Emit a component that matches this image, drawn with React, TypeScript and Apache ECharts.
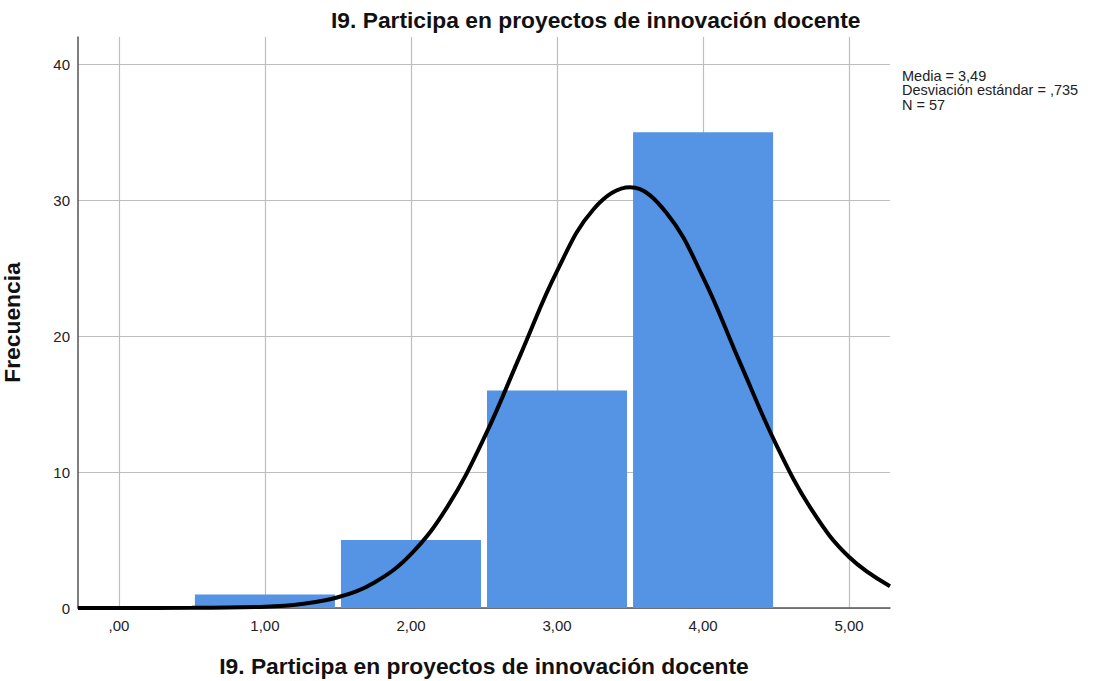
import React, { useEffect, useRef } from "react";
import * as echarts from "echarts";

const TITLE = "I9. Participa en proyectos de innovación docente";
const Y_NAME = "Frecuencia";
const binCenters = [1, 2, 3, 4];
const binCounts = [1, 5, 16, 35];
const xTicks = [0, 1, 2, 3, 4, 5];
const xTickLabels = [",00", "1,00", "2,00", "3,00", "4,00", "5,00"];
const yTicks = [0, 10, 20, 30, 40];
const curveX = [-0.28, 0, 0.5, 1, 1.25, 1.5, 1.75, 2, 2.25, 2.5, 2.75, 3, 3.25, 3.5, 3.75, 4, 4.25, 4.5, 4.75, 5, 5.28];
const curveY = [0, 0, 0.01, 0.1, 0.3, 0.79, 1.88, 3.96, 7.46, 12.49, 18.64, 24.78, 29.33, 30.94, 29.06, 24.32, 18.12, 12.04, 7.12, 3.75, 1.6];
const statsLines = ["Media = 3,49", "Desviación estándar = ,735", "N = 57"];

const FONT = "'Liberation Sans', Arial, sans-serif";

export default function App() {
  const ref = useRef<HTMLDivElement>(null);
  useEffect(() => {
    if (!ref.current) return;
    const chart = echarts.init(ref.current, undefined, { renderer: "svg" });
    const option: any = {
      animation: false,
      backgroundColor: "#ffffff",
      textStyle: { fontFamily: FONT },
      title: {
        text: TITLE,
        left: 331,
        top: 8,
        padding: 0,
        textStyle: { fontFamily: FONT, fontSize: 22.8, fontWeight: "bold", color: "#111" },
      },
      grid: { left: 78, right: 206, top: 37, bottom: 73, outerBoundsMode: "none", containLabel: false },
      xAxis: {
        type: "value",
        min: -0.28,
        max: 5.28,
        name: TITLE,
        nameLocation: "middle",
        nameGap: 46,
        nameTextStyle: { fontFamily: FONT, fontSize: 22.8, fontWeight: "bold", color: "#111" },
        axisLine: { show: true, onZero: false, lineStyle: { color: "#555", width: 1.5 } },
        axisTick: { show: false, customValues: xTicks },
        axisLabel: {
          customValues: xTicks,
          margin: 10,
          fontFamily: FONT,
          fontSize: 15,
          color: "#222",
          formatter: (v: number) => {
            const i = xTicks.indexOf(Math.round(v));
            return i >= 0 ? xTickLabels[i] : "";
          },
        },
        splitLine: { show: true, lineStyle: { color: "#bdbdbd", width: 1.2 } },
      },
      yAxis: {
        type: "value",
        min: 0,
        max: 42,
        name: Y_NAME,
        nameLocation: "middle",
        nameGap: 55,
        nameTextStyle: { fontFamily: FONT, fontSize: 22.8, fontWeight: "bold", color: "#111" },
        axisLine: { show: true, onZero: false, lineStyle: { color: "#555", width: 1.5 } },
        axisTick: { show: false, customValues: yTicks },
        axisLabel: { customValues: yTicks, margin: 8, fontFamily: FONT, fontSize: 15, color: "#222" },
        splitLine: { show: true, lineStyle: { color: "#bdbdbd", width: 1.2 } },
      },
      series: [
        {
          type: "custom",
          z: 2,
          data: binCenters.map((c, i) => [c, binCounts[i]]),
          renderItem: (params: any, api: any) => {
            const c = api.value(0);
            const v = api.value(1);
            const p0 = api.coord([c - 0.5, v]);
            const p1 = api.coord([c + 0.5, 0]);
            return {
              type: "rect",
              shape: { x: p0[0] + 3, y: p0[1], width: p1[0] - p0[0] - 6, height: p1[1] - p0[1] },
              style: { fill: "#5594e5" },
            };
          },
        },
        {
          type: "line",
          z: 5,
          smooth: 0.4,
          showSymbol: false,
          symbol: "none",
          clip: false,
          data: curveX.map((x, i) => [x, curveY[i]]),
          lineStyle: { color: "#000", width: 4 },
        },
      ],
      graphic: statsLines.map((t, i) => ({
        type: "text",
        left: 902,
        top: 68 + i * 14.6,
        style: { text: t, font: `14.5px ${FONT}`, fill: "#222" },
      })),
    };
    chart.setOption(option);
    return () => chart.dispose();
  }, []);
  return (
    <div
      ref={ref}
      style={{ position: "absolute", left: 0, top: 0, width: 1096, height: 681 }}
    />
  );
}
